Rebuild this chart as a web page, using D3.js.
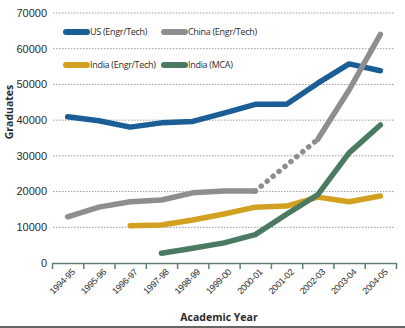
<!DOCTYPE html>
<html>
<head>
<meta charset="utf-8">
<script src="https://cdn.jsdelivr.net/npm/d3@7"></script>
<style>
    body { margin: 0; background: #fff; }
    svg { display: block; font-family: "Open Sans", sans-serif; }
    .grid line { stroke: #9a9a9a; stroke-dasharray: 1.5,1.5; }
    .grid .domain { display: none; }
    .yaxis text, .xlabels text { fill: #2b2b2b; }
    .line { fill: none; stroke-width: 5.5; stroke-linejoin: round; stroke-linecap: round; }
</style>
</head>
<body>
<div id="vis"></div>
<script>

let years = ['1994-95', '1995-96', '1996-97', '1997-98', '1998-99', '1999-00',
             '2000-01', '2001-02', '2002-03', '2003-04', '2004-05'];

let usEngr    = [40800, 39700, 37900, 39100, 39500, 41800, 44300, 44300, 50200, 55600, 53700];
// no figure for 2001-02, bridged with a dotted segment
let chinaEngr = [12800, 15500, 17000, 17500, 19500, 20000, 20000, null, 34500, 48300, 63900];
let indiaEngr = [null, null, 10300, 10500, 11900, 13600, 15500, 15800, 18300, 17000, 18600];
let indiaMca  = [null, null, null, 2600, 4000, 5500, 7800, 13500, 19000, 30700, 38500];

let yTicks = [0, 10000, 20000, 30000, 40000, 50000, 60000, 70000];

let series = [
    {name: 'US (Engr/Tech)', values: usEngr, color: '#1b5e96'},
    {name: 'China (Engr/Tech)', values: chinaEngr, color: '#8e8e8e'},
    {name: 'India (Engr/Tech)', values: indiaEngr, color: '#d3a122'},
    {name: 'India (MCA)', values: indiaMca, color: '#4b7a63'}
];

let width = 405, height = 328;
let margin = {top: 12.5, right: 9, bottom: 65.5, left: 52};

let svg = d3.select('#vis')
    .append('svg')
    .attr('width', width)
    .attr('height', height);

// Scales
let xScale = d3.scaleBand()
    .domain(years)
    .range([margin.left, width - margin.right]);

let yScale = d3.scaleLinear()
    .domain([0, 70000])
    .range([height - margin.bottom, margin.top]);

// Gridlines
svg.append('g')
    .attr('class', 'grid')
    .attr('transform', 'translate(' + (margin.left + 1) + ',0)')
    .call(d3.axisRight(yScale)
        .tickValues(yTicks.slice(1))
        .tickSize(width - margin.right - margin.left - 2)
        .tickFormat(''));

// Y axis labels
let yAxis = svg.append('g')
    .attr('class', 'yaxis')
    .attr('transform', 'translate(' + (margin.left - 5) + ',0)')
    .call(d3.axisLeft(yScale).tickValues(yTicks).tickSize(0).tickPadding(0).tickFormat(d3.format('d')));
yAxis.select('.domain').remove();
yAxis.selectAll('text').style('font-size', '11px').attr('dy', '0.35em');

// X axis: line with ticks at the band edges
let edgeScale = d3.scaleLinear()
    .domain([0, years.length])
    .range(xScale.range());

let xAxis = svg.append('g')
    .attr('transform', 'translate(0,' + (yScale(0) + 0.5) + ')')
    .call(d3.axisBottom(edgeScale)
        .tickValues(d3.range(years.length + 1))
        .tickSize(6)
        .tickSizeOuter(0)
        .tickFormat(''));
xAxis.selectAll('.domain, line')
    .attr('stroke', '#5f8270')
    .attr('stroke-width', 1.5);

// X axis labels, rotated
let xLabels = svg.append('g')
    .attr('class', 'xlabels')
    .attr('transform', 'translate(0,' + (yScale(0) + 6) + ')')
    .call(d3.axisBottom(xScale).tickSize(0).tickPadding(0));
xLabels.select('.domain').remove();
xLabels.selectAll('text')
    .style('font-size', '9px')
    .style('letter-spacing', '-0.2px')
    .attr('text-anchor', 'end')
    .attr('dy', 0)
    .attr('transform', 'translate(8,4) rotate(-45)');

// Lines
let line = d3.line()
    .defined(d => d.v !== null)
    .x(d => xScale(d.year) + xScale.bandwidth() / 2)
    .y(d => yScale(d.v));

series.forEach(s => {
    let pts = s.values.map((v, i) => ({year: years[i], v: v}));

    // dotted bridge across missing years
    for (let i = 1; i < pts.length - 1; i++) {
        if (pts[i].v === null && pts[i - 1].v !== null) {
            let j = i;
            while (j < pts.length && pts[j].v === null) j++;
            if (j < pts.length) {
                svg.append('path')
                    .attr('class', 'line')
                    .attr('d', line([pts[i - 1], pts[j]]))
                    .attr('stroke', s.color)
                    .attr('stroke-width', 5.5)
                    .attr('stroke-dasharray', '0.1,7.6');
            }
        }
    }

    svg.append('path')
        .attr('class', 'line')
        .attr('d', line(pts))
        .attr('stroke', s.color);
});

// Legend
let legend = svg.selectAll('g.legend')
    .data(series)
    .enter()
    .append('g')
    .attr('class', 'legend')
    .attr('transform', (d, i) => 'translate(' + (i % 2 === 0 ? 66 : 164) + ',' + (i < 2 ? 32 : 65) + ')');

legend.append('line')
    .attr('x1', 0)
    .attr('x2', 21)
    .attr('stroke', d => d.color)
    .attr('stroke-width', 6)
    .attr('stroke-linecap', 'round');

legend.append('text')
    .attr('x', 24)
    .attr('dy', '0.35em')
    .style('font-size', '9px')
    .style('letter-spacing', '-0.3px')
    .attr('fill', '#2b2b2b')
    .text(d => d.name);

// Axis titles
svg.append('text')
    .attr('x', 219)
    .attr('y', 321)
    .attr('text-anchor', 'middle')
    .style('font-size', '10.5px')
    .style('font-weight', 'bold')
    .attr('fill', '#2b2b2b')
    .text('Academic Year');

svg.append('text')
    .attr('transform', 'translate(13,112) rotate(-90)')
    .attr('text-anchor', 'middle')
    .style('font-size', '10.5px')
    .style('font-weight', 'bold')
    .attr('fill', '#2b2b2b')
    .text('Graduates');

// bottom rule
svg.append('line')
    .attr('x1', 0)
    .attr('x2', width)
    .attr('y1', height - 1)
    .attr('y2', height - 1)
    .attr('stroke', '#333')
    .attr('stroke-width', 1.5);

</script>
</body>
</html>
